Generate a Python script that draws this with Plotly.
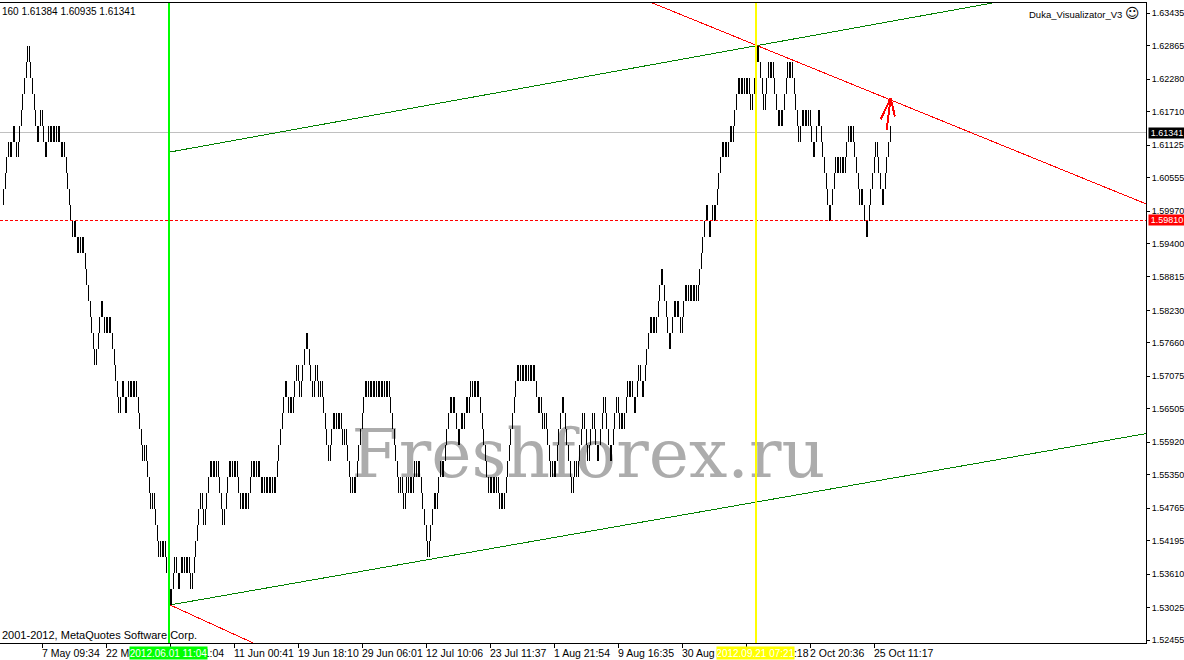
import plotly.graph_objects as go

# ---------------- data ----------------
# Renko-style price path: signed runs of consecutive bricks (one brick per bar)
brick_runs = [
    4, -1, 2, -2, 7, -6, 2, -3, 2, -1, 1, -1, 1, -1, 1, -2, 1, -6,
    1, -2, 1, -1, 1, -8, 4, -2, 1, -1, 1, -6,
    2, -2, 2, -1, 1, -1, 1, -5, 1, -4, 1, -4, 1, -1, 1, -4,
    3, -2, 2, -1, 1, -1, 1, -2, 6, -2, 4, -1, 1, -1, 1, -4, 4, -1, 1, -1, 1,
    -3, 1, -1, 1, -1, 3, -1, 1, -1, 1,
    -2, 1, -1, 1, -1, 1, -1, 1, -1, 7, -2, 1, -1, 3, -2, 4, -4, 2, -2, 1, -5,
    3, -1, 1, -1, 1, -2, 1, -4, 1, -1, 7,
    -1, 1, -1, 1, -1, 1, -1, 1, -1, 1, -1, 1, -1, 1,
    -7, 1, -2, 2, -1, 1, -1, 2, -1, 1, -6,
    4, -1, 3, -1, 5, -1, 1, -3, 2, -1, 2, -1, 2, -1, 1, -1, 1,
    -7, 1, -1, 1, -1, 1, -2, 1, -1,
    9, -1, 1, -1, 1, -1, 1, -1, 1, -1, 1, -3, 1, -2, 1, -4, 1, -1, 5,
    -6, 2, -1, 4, -3, 3, -3, 4, -4, 4, -2, 1, -1, 3, -1, 1, -2, 3, -2, 5,
    -1, 1, -1, 4, -5, 3, -1, 1, -2, 3, -1, 1, -1, 1, -1, 1, -1, 6,
    -2, 2, -1, 5, -1, 1, -1, 2, -1, 1,
    3, -1, 1, -1, 1, -1, 1, -2, 4, -4, 3, -1, 1, -4, 1, -1, 4, -1, 1, -5,
    2, -1, 1, -1, 1, -3, 3, -7, 4, -1, 1, -1, 1, -1, 3, -1, 1, -5, 1, -3,
    6, -4, 5,
]
first_close = 1.60069
brick_size = 0.0028

price_ticks = [1.63435, 1.62865, 1.62280, 1.61710, 1.61125, 1.60555, 1.59970,
               1.59400, 1.58815, 1.58230, 1.57660, 1.57075, 1.56505, 1.55920,
               1.55350, 1.54765, 1.54195, 1.53610, 1.53025, 1.52455]

time_tick_bars = [-18, 25, 65, 105, 145, 185, 225, 265, 305, 345, 385, 425, 465, 505, 545]
time_tick_labels = ["27 Apr 14:24", "7 May 09:34", "22 May 03:04", "1 Jun 11:04",
                    "11 Jun 00:41", "19 Jun 18:10", "29 Jun 06:01", "12 Jul 10:06",
                    "23 Jul 11:37", "1 Aug 21:54", "9 Aug 16:35", "30 Aug 12:47",
                    "21 Sep 02:18", "2 Oct 20:36", "25 Oct 11:17"]

ohlc_header = "160 1.61384 1.60935 1.61341"
indicator_name = "Duka_Visualizator_V3"
copyright_text = "2001-2012, MetaQuotes Software Corp."
last_close = 1.61341
alert_level = 1.59810

green_vline_bar = 104.25
green_vline_label = "2012.06.01 11:04"
yellow_vline_bar = 471.0
yellow_vline_label = "2012.09.21 07:21"

channel_upper_x = [105, 716.25]
channel_upper_y = [1.61005, 1.64110]
channel_lower_x = [105, 716.25]
channel_lower_y = [1.53069, 1.56077]
red_upper_x = [400, 716.25]
red_upper_y = [1.63690, 1.60082]
red_lower_x = [105, 165]
red_lower_y = [1.53069, 1.52300]
arrow_x = [552.9, 555.4, None, 549.2, 555.4, 558.1]
arrow_y = [1.61391, 1.61946, None, 1.61580, 1.61946, 1.61626]

x_range = [-1.25, 715.0]
y_range = [1.524024, 1.636155]

# ---------------- build bars ----------------
closes = [first_close]
for r in brick_runs:
    step = brick_size if r > 0 else -brick_size
    for _ in range(abs(r)):
        closes.append(closes[-1] + step)

bar_x, bar_y = [], []
for i in range(1, len(closes)):
    bar_x += [i, i, None]
    bar_y += [closes[i - 1], closes[i], None]

FONT = "Liberation Sans, Arial, sans-serif"

fig = go.Figure()

# watermark (under the price)
fig.add_trace(go.Scatter(
    x=[366.5], y=[1.5561], mode="text", text=["Freshforex.ru"],
    textposition="middle center",
    textfont=dict(family="DejaVu Serif", size=68, color="#acacac"),
    hoverinfo="skip", showlegend=False))

# channel lines
fig.add_trace(go.Scatter(x=channel_upper_x, y=channel_upper_y, mode="lines",
                         line=dict(color="#008000", width=1), showlegend=False, hoverinfo="skip"))
fig.add_trace(go.Scatter(x=channel_lower_x, y=channel_lower_y, mode="lines",
                         line=dict(color="#008000", width=1), showlegend=False, hoverinfo="skip"))
fig.add_trace(go.Scatter(x=red_upper_x, y=red_upper_y, mode="lines",
                         line=dict(color="#ff0000", width=1), showlegend=False, hoverinfo="skip"))
fig.add_trace(go.Scatter(x=red_lower_x, y=red_lower_y, mode="lines",
                         line=dict(color="#ff0000", width=1), showlegend=False, hoverinfo="skip"))

# price bars
fig.add_trace(go.Scatter(x=bar_x, y=bar_y, mode="lines",
                         line=dict(color="#000000", width=1),
                         showlegend=False, hoverinfo="skip", connectgaps=False))

# arrow
fig.add_trace(go.Scatter(x=arrow_x, y=arrow_y, mode="lines",
                         line=dict(color="#ff0000", width=2), showlegend=False, hoverinfo="skip"))

shapes = [
    dict(type="line", xref="paper", yref="y", x0=0, x1=1, y0=last_close, y1=last_close,
         line=dict(color="#c0c0c0", width=1), layer="below"),
    dict(type="line", xref="paper", yref="y", x0=0, x1=1, y0=alert_level, y1=alert_level,
         line=dict(color="#ff0000", width=1, dash="3px,2px")),
    dict(type="line", xref="x", yref="paper", x0=green_vline_bar, x1=green_vline_bar, y0=0, y1=1,
         line=dict(color="#00ff00", width=2)),
    dict(type="line", xref="x", yref="paper", x0=yellow_vline_bar, x1=yellow_vline_bar, y0=0, y1=1,
         line=dict(color="#ffff00", width=2)),
]

annotations = []
for xb, lab in zip(time_tick_bars, time_tick_labels):
    annotations.append(dict(x=xb, xref="x", y=0, yref="paper", text=lab, showarrow=False,
                            xanchor="left", yanchor="middle", yshift=-9.5, xshift=-1,
                            borderpad=0, font=dict(family=FONT, size=10.5, color="black")))

annotations += [
    dict(x=green_vline_bar, xref="x", y=0, yref="paper", text=green_vline_label, showarrow=False,
         xanchor="center", yanchor="middle", yshift=-9.5, bgcolor="#00ff00", width=77, height=12,
         borderpad=0, font=dict(family=FONT, size=10, color="white")),
    dict(x=yellow_vline_bar, xref="x", y=0, yref="paper", text=yellow_vline_label, showarrow=False,
         xanchor="center", yanchor="middle", yshift=-9.5, bgcolor="#ffff00", width=77, height=12,
         borderpad=0, font=dict(family=FONT, size=10, color="white")),
    dict(x=1, xref="paper", y=last_close, yref="y", text=f"{last_close:.5f}", showarrow=False,
         xanchor="left", yanchor="middle", xshift=2, bgcolor="black", width=36, height=10,
         borderpad=0, font=dict(family=FONT, size=9, color="white")),
    dict(x=1, xref="paper", y=alert_level, yref="y", text=f"{alert_level:.5f}", showarrow=False,
         xanchor="left", yanchor="middle", xshift=2, bgcolor="#ff0000", width=36, height=10,
         borderpad=0, font=dict(family=FONT, size=9, color="white")),
    dict(x=0, xref="paper", y=1, yref="paper", text=ohlc_header, showarrow=False,
         xanchor="left", yanchor="middle", yshift=-8.2, xshift=1, borderpad=0,
         font=dict(family=FONT, size=10, color="black")),
    dict(x=1141 / 1146, xref="paper", y=1, yref="paper",
         text=indicator_name + " <span style='font-family:DejaVu Sans;font-size:14px'>☺</span>",
         showarrow=False, xanchor="right", yanchor="middle", yshift=-9.5, borderpad=0,
         font=dict(family=FONT, size=9.5, color="black")),
    dict(x=0, xref="paper", y=0, yref="paper", text=copyright_text,
         showarrow=False, xanchor="left", yanchor="middle", yshift=8, xshift=1, borderpad=0,
         font=dict(family=FONT, size=11, color="black")),
]

fig.update_layout(
    width=1184, height=660,
    margin=dict(l=0, r=38, t=3, b=17, pad=0),
    paper_bgcolor="white", plot_bgcolor="white",
    showlegend=False,
    shapes=shapes, annotations=annotations,
    xaxis=dict(range=x_range, showgrid=False, zeroline=False, showline=True,
               linecolor="black", linewidth=1, mirror=True,
               tickmode="array", tickvals=time_tick_bars, ticks="outside", ticklen=4,
               tickcolor="black", tickwidth=1, showticklabels=False, fixedrange=True),
    yaxis=dict(range=y_range, side="right", showgrid=False, zeroline=False, showline=True,
               linecolor="black", linewidth=1, mirror=False,
               tickmode="array", tickvals=price_ticks,
               ticktext=[f"{v:.5f}" for v in price_ticks],
               ticks="outside", ticklen=3, tickcolor="black", tickwidth=1,
               tickfont=dict(family=FONT, size=9, color="black"), fixedrange=True),
)

post_js = (
    "document.body.style.margin='0px';document.body.style.overflow='hidden';"
    "var gd=document.getElementById('{plot_id}');"
    "gd.querySelectorAll('.scatterlayer path, .shapelayer path').forEach(function(p){"
    "p.style.shapeRendering='crispEdges';});"
)

fig.write_html("out.html", config={"displayModeBar": False}, post_script=post_js)
